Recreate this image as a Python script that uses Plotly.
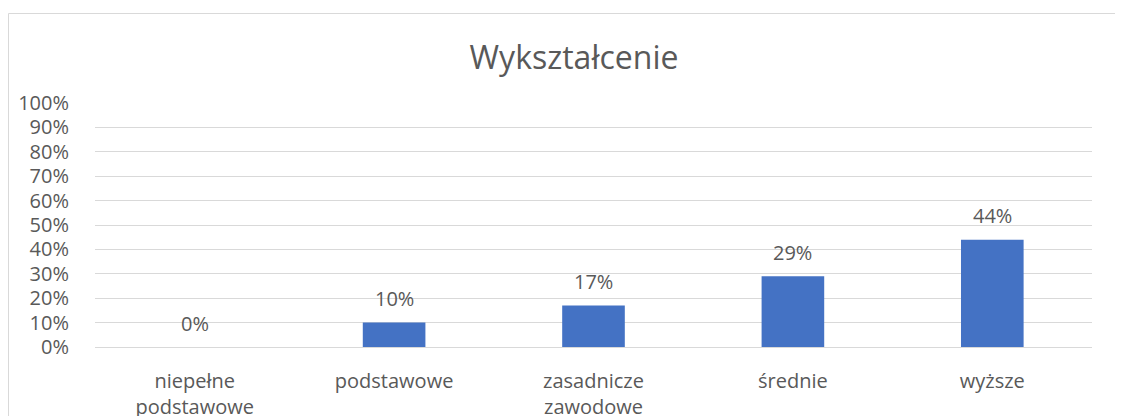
import plotly.graph_objects as go

categories = ["niepełne<br>podstawowe", "podstawowe", "zasadnicze<br>zawodowe", "średnie", "wyższe"]
values = [0, 10, 17, 29, 44]
labels = ["0%", "10%", "17%", "29%", "44%"]
y_ticks = list(range(0, 101, 10))
y_tick_text = [f"{v}%" for v in y_ticks]

# page body has an 8px margin, so the figure is sized to fill the rest of the window
OFF = 8
W, H = 1123 - OFF, 416 - OFF
L, R, T, B = 87, 31, 95, 69
pw, ph = W - L - R, H - T - B

def px_x(p):  # page pixel -> paper x
    return (p - OFF - L) / pw

def px_y(p):  # page pixel -> paper y
    return (H - B - (p - OFF)) / ph

FONT = "Open Sans"
GREY = "#595959"

fig = go.Figure()
fig.add_trace(go.Bar(
    x=categories, y=values,
    marker=dict(color="#4472C4", line=dict(width=0)),
    hoverinfo="skip",
))

for c, v, t in zip(categories, values, labels):
    fig.add_annotation(x=c, y=v, text=t, showarrow=False, xref="x", yref="y",
                       yanchor="middle", yshift=24,
                       font=dict(family=FONT, size=20, color=GREY))

fig.add_shape(type="rect", xref="paper", yref="paper",
              x0=px_x(8.5), x1=px_x(1126), y0=px_y(425), y1=px_y(13.5),
              line=dict(color="#d9d9d9", width=1), fillcolor="rgba(0,0,0,0)", layer="below")

fig.update_layout(
    width=W, height=H,
    margin=dict(l=L, r=R, t=T, b=B, pad=0, autoexpand=False),
    paper_bgcolor="white", plot_bgcolor="white",
    bargap=0.686,
    showlegend=False,
    title=dict(text="Wykształcenie", x=px_x(574), xref="paper", xanchor="center",
               y=1 - (58 - OFF) / H, yref="container", yanchor="middle",
               font=dict(family=FONT, size=32, color=GREY)),
    font=dict(family=FONT, size=20, color=GREY),
)
fig.update_xaxes(automargin=False, showgrid=False, showline=False, zeroline=False,
                 ticks="outside", ticklen=16, tickcolor="rgba(0,0,0,0)",
                 tickfont=dict(family=FONT, size=20, color=GREY))
fig.update_yaxes(automargin=False, range=[0, 100], tickvals=y_ticks, ticktext=y_tick_text,
                 showgrid=True, gridcolor="#d9d9d9", gridwidth=1,
                 zeroline=True, zerolinecolor="#d9d9d9", zerolinewidth=1,
                 showline=False, ticks="outside", ticklen=21, tickcolor="rgba(0,0,0,0)",
                 tickfont=dict(family=FONT, size=20, color=GREY))

fig.write_html("out.html")
